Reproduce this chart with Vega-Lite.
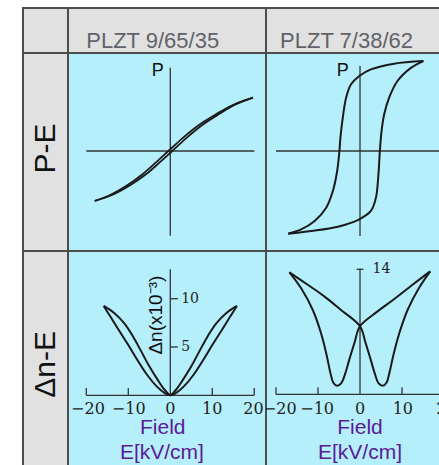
{
  "$schema": "https://vega.github.io/schema/vega-lite/v6.json",
  "padding": {"left": 22, "top": 7, "right": 0, "bottom": 0},
  "background": "white",
  "spacing": 0,
  "bounds": "flush",
  "align": "each",
  "columns": 3,
  "config": {"view": {"stroke": "#4d4d4d", "strokeWidth": 2}},
  "concat": [
        {
          "width": 45, "height": 45,
          "view": {"fill": "#e1e1e1", "stroke": "#4d4d4d", "strokeWidth": 2},
          "data": {"values": [{"t": ""}]},
          "mark": {"type": "text"},
          "encoding": {"text": {"field": "t"}}
        },
        {
          "width": 198, "height": 45,
          "view": {"fill": "#e1e1e1", "stroke": "#4d4d4d", "strokeWidth": 2},
          "data": {"values": [{"E": -4.19, "y": 0.118, "t": "PLZT 9/65/35"}]},
          "mark": {"type": "text", "font": "Liberation Sans", "fontSize": 22, "color": "#5f6368", "align": "center", "baseline": "alphabetic", "clip": true},
          "encoding": {
            "x": {"field": "E", "type": "quantitative", "scale": {"domain": [-24.36, 22.79], "nice": false, "zero": false}, "axis": null},
            "y": {"field": "y", "type": "quantitative", "scale": {"domain": [0, 1], "nice": false, "zero": false}, "axis": null},
            "text": {"field": "t"}
          }
        },
        {
          "width": 176, "height": 45,
          "view": {"fill": "#e1e1e1", "stroke": "#4d4d4d", "strokeWidth": 2},
          "data": {"values": [{"E": -3.2, "y": 0.118, "t": "PLZT 7/38/62"}]},
          "mark": {"type": "text", "font": "Liberation Sans", "fontSize": 22, "color": "#5f6368", "align": "center", "baseline": "alphabetic", "clip": true},
          "encoding": {
            "x": {"field": "E", "type": "quantitative", "scale": {"domain": [-22.38, 19.52], "nice": false, "zero": false}, "axis": null},
            "y": {"field": "y", "type": "quantitative", "scale": {"domain": [0, 1], "nice": false, "zero": false}, "axis": null},
            "text": {"field": "t"}
          }
        },
        {
          "width": 45, "height": 198,
          "view": {"fill": "#e1e1e1", "stroke": "#4d4d4d", "strokeWidth": 2},
          "data": {"values": [{"P": 0.03, "t": "P-E"}]},
          "mark": {"type": "text", "font": "Liberation Sans", "fontSize": 30, "color": "#111111", "angle": 270, "align": "center", "baseline": "middle"},
          "encoding": {
            "y": {"field": "P", "type": "quantitative", "scale": {"domain": [-1.1905, 1.1667], "nice": false, "zero": false}, "axis": null},
            "text": {"field": "t"}
          }
        },
        {
          "width": 198, "height": 198,
          "view": {"fill": "#b5effb", "stroke": "#4d4d4d", "strokeWidth": 2},
          "layer": [
            {
              "data": {"values": [
                {"E": -20, "E2": 20, "P": 0, "P2": 0},
                {"E": 0, "E2": 0, "P": -1.01, "P2": 0.99}
              ]},
              "mark": {"type": "rule", "color": "#333333", "strokeWidth": 1.3, "clip": true},
              "encoding": {
                "x": {"field": "E", "type": "quantitative", "scale": {"domain": [-24.36, 22.79], "nice": false, "zero": false}, "axis": null},
                "x2": {"field": "E2"},
                "y": {"field": "P", "type": "quantitative", "scale": {"domain": [-1.1905, 1.1667], "nice": false, "zero": false}, "axis": null},
                "y2": {"field": "P2"}
              }
            },
            {
              "data": {"values": [
                {"b": 1, "i": 0, "E": -18.0, "P": -0.595},
                {"b": 1, "i": 1, "E": -13.87, "P": -0.524},
                {"b": 1, "i": 2, "E": -9.87, "P": -0.417},
                {"b": 1, "i": 3, "E": -5.79, "P": -0.277},
                {"b": 1, "i": 4, "E": -2.6, "P": -0.139},
                {"b": 1, "i": 5, "E": 0.45, "P": 0},
                {"b": 1, "i": 6, "E": 3.74, "P": 0.151},
                {"b": 1, "i": 7, "E": 7.62, "P": 0.31},
                {"b": 1, "i": 8, "E": 11.51, "P": 0.437},
                {"b": 1, "i": 9, "E": 15.29, "P": 0.548},
                {"b": 1, "i": 10, "E": 19.7, "P": 0.635},
                {"b": 2, "i": 0, "E": 19.7, "P": 0.635},
                {"b": 2, "i": 1, "E": 14.91, "P": 0.548},
                {"b": 2, "i": 2, "E": 10.89, "P": 0.437},
                {"b": 2, "i": 3, "E": 6.82, "P": 0.31},
                {"b": 2, "i": 4, "E": 2.86, "P": 0.151},
                {"b": 2, "i": 5, "E": -0.45, "P": 0},
                {"b": 2, "i": 6, "E": -3.48, "P": -0.139},
                {"b": 2, "i": 7, "E": -6.61, "P": -0.277},
                {"b": 2, "i": 8, "E": -10.53, "P": -0.417},
                {"b": 2, "i": 9, "E": -14.33, "P": -0.524},
                {"b": 2, "i": 10, "E": -18.0, "P": -0.595}
              ]},
              "mark": {"type": "line", "color": "#1a1a1a", "strokeWidth": 1.8, "interpolate": "catmull-rom", "clip": true},
              "encoding": {
                "x": {"field": "E", "type": "quantitative", "scale": {"domain": [-24.36, 22.79], "nice": false, "zero": false}, "axis": null},
                "y": {"field": "P", "type": "quantitative", "scale": {"domain": [-1.1905, 1.1667], "nice": false, "zero": false}, "axis": null},
                "detail": {"field": "b", "type": "nominal"},
                "order": {"field": "i", "type": "quantitative"}
              }
            },
            {
              "data": {"values": [{"E": -2.96, "P": 0.952, "t": "P"}]},
              "mark": {"type": "text", "font": "Liberation Sans", "fontSize": 18, "color": "#111111", "align": "center", "baseline": "middle", "clip": true},
              "encoding": {
                "x": {"field": "E", "type": "quantitative", "scale": {"domain": [-24.36, 22.79], "nice": false, "zero": false}, "axis": null},
                "y": {"field": "P", "type": "quantitative", "scale": {"domain": [-1.1905, 1.1667], "nice": false, "zero": false}, "axis": null},
                "text": {"field": "t"}
              }
            }
          ]
        },
        {
          "width": 176, "height": 198,
          "view": {"fill": "#b5effb", "stroke": "#4d4d4d", "strokeWidth": 2},
          "layer": [
            {
              "data": {"values": [
                {"E": -20, "E2": 22, "P": 0, "P2": 0},
                {"E": 0, "E2": 0, "P": -1.012, "P2": 1.012}
              ]},
              "mark": {"type": "rule", "color": "#333333", "strokeWidth": 1.3, "clip": true},
              "encoding": {
                "x": {"field": "E", "type": "quantitative", "scale": {"domain": [-22.38, 19.52], "nice": false, "zero": false}, "axis": null},
                "x2": {"field": "E2"},
                "y": {"field": "P", "type": "quantitative", "scale": {"domain": [-1.1905, 1.1667], "nice": false, "zero": false}, "axis": null},
                "y2": {"field": "P2"}
              }
            },
            {
              "data": {"values": [
                {"b": 1, "i": 0, "E": 15.1, "P": 1.071},
                {"b": 1, "i": 1, "E": 8.13, "P": 1.04},
                {"b": 1, "i": 2, "E": 2.6, "P": 0.972},
                {"b": 1, "i": 3, "E": -0.17, "P": 0.893},
                {"b": 1, "i": 4, "E": -2.13, "P": 0.794},
                {"b": 1, "i": 5, "E": -3.31, "P": 0.635},
                {"b": 1, "i": 6, "E": -4.1, "P": 0.397},
                {"b": 1, "i": 7, "E": -4.66, "P": 0.159},
                {"b": 1, "i": 8, "E": -4.9, "P": 0},
                {"b": 1, "i": 9, "E": -5.44, "P": -0.238},
                {"b": 1, "i": 10, "E": -6.46, "P": -0.476},
                {"b": 1, "i": 11, "E": -8.05, "P": -0.675},
                {"b": 1, "i": 12, "E": -10.8, "P": -0.833},
                {"b": 1, "i": 13, "E": -14.0, "P": -0.933},
                {"b": 1, "i": 14, "E": -17.1, "P": -0.984},
                {"b": 2, "i": 0, "E": -17.1, "P": -0.984},
                {"b": 2, "i": 1, "E": -11.6, "P": -0.952},
                {"b": 2, "i": 2, "E": -5.28, "P": -0.901},
                {"b": 2, "i": 3, "E": -0.17, "P": -0.813},
                {"b": 2, "i": 4, "E": 2.6, "P": -0.714},
                {"b": 2, "i": 5, "E": 3.79, "P": -0.556},
                {"b": 2, "i": 6, "E": 4.33, "P": -0.317},
                {"b": 2, "i": 7, "E": 4.73, "P": 0},
                {"b": 2, "i": 8, "E": 5.13, "P": 0.238},
                {"b": 2, "i": 9, "E": 5.76, "P": 0.437},
                {"b": 2, "i": 10, "E": 6.94, "P": 0.635},
                {"b": 2, "i": 11, "E": 8.92, "P": 0.833},
                {"b": 2, "i": 12, "E": 12.2, "P": 0.992},
                {"b": 2, "i": 13, "E": 15.1, "P": 1.071}
              ]},
              "mark": {"type": "line", "color": "#1a1a1a", "strokeWidth": 2, "interpolate": "catmull-rom", "clip": true},
              "encoding": {
                "x": {"field": "E", "type": "quantitative", "scale": {"domain": [-22.38, 19.52], "nice": false, "zero": false}, "axis": null},
                "y": {"field": "P", "type": "quantitative", "scale": {"domain": [-1.1905, 1.1667], "nice": false, "zero": false}, "axis": null},
                "detail": {"field": "b", "type": "nominal"},
                "order": {"field": "i", "type": "quantitative"}
              }
            },
            {
              "data": {"values": [{"E": -4.1, "P": 0.952, "t": "P"}]},
              "mark": {"type": "text", "font": "Liberation Sans", "fontSize": 18, "color": "#111111", "align": "center", "baseline": "middle", "clip": true},
              "encoding": {
                "x": {"field": "E", "type": "quantitative", "scale": {"domain": [-22.38, 19.52], "nice": false, "zero": false}, "axis": null},
                "y": {"field": "P", "type": "quantitative", "scale": {"domain": [-1.1905, 1.1667], "nice": false, "zero": false}, "axis": null},
                "text": {"field": "t"}
              }
            }
          ]
        },
        {
          "width": 45, "height": 215,
          "view": {"fill": "#e1e1e1", "stroke": "#4d4d4d", "strokeWidth": 2},
          "data": {"values": [{"v": 3.2, "t": "Δn-E"}]},
          "mark": {"type": "text", "font": "Liberation Sans", "fontSize": 30, "color": "#111111", "angle": 270, "align": "center", "baseline": "middle"},
          "encoding": {
            "y": {"field": "v", "type": "quantitative", "scale": {"domain": [-7.32, 14.94], "nice": false, "zero": false}, "axis": null},
            "text": {"field": "t"}
          }
        },
        {
          "width": 198, "height": 215,
          "view": {"fill": "#b5effb", "stroke": "#4d4d4d", "strokeWidth": 2},
          "layer": [
            {
              "data": {"values": [
                {"E": -20, "E2": 20, "v": 0, "v2": 0},
                {"E": 0, "E2": 0, "v": 0, "v2": 13.06},
                {"E": -20, "E2": -20, "v": 0, "v2": 0.75},
                {"E": -10, "E2": -10, "v": 0, "v2": 0.75},
                {"E": 10, "E2": 10, "v": 0, "v2": 0.75},
                {"E": 20, "E2": 20, "v": 0, "v2": 0.75},
                {"E": 0, "E2": 1.8, "v": 10, "v2": 10},
                {"E": 0, "E2": 1.8, "v": 5, "v2": 5}
              ]},
              "mark": {"type": "rule", "color": "#333333", "strokeWidth": 1.3, "clip": true},
              "encoding": {
                "x": {"field": "E", "type": "quantitative", "scale": {"domain": [-24.36, 22.79], "nice": false, "zero": false}, "axis": null},
                "x2": {"field": "E2"},
                "y": {"field": "v", "type": "quantitative", "scale": {"domain": [-7.32, 14.94], "nice": false, "zero": false}, "axis": null},
                "y2": {"field": "v2"}
              }
            },
            {
              "data": {"values": [
                {"b": 1, "i": 0, "E": -15.86, "v": 9.25},
                {"b": 1, "i": 1, "E": -14.2, "v": 8.1},
                {"b": 1, "i": 2, "E": -12.2, "v": 6.7},
                {"b": 1, "i": 3, "E": -10.0, "v": 5.2},
                {"b": 1, "i": 4, "E": -7.76, "v": 3.6},
                {"b": 1, "i": 5, "E": -5.5, "v": 2.1},
                {"b": 1, "i": 6, "E": -3.3, "v": 0.95},
                {"b": 1, "i": 7, "E": -1.4, "v": 0.25},
                {"b": 1, "i": 8, "E": 0, "v": 0},
                {"b": 1, "i": 9, "E": 1.26, "v": 0.52},
                {"b": 1, "i": 10, "E": 3.0, "v": 1.6},
                {"b": 1, "i": 11, "E": 5.0, "v": 3.0},
                {"b": 1, "i": 12, "E": 6.98, "v": 4.6},
                {"b": 1, "i": 13, "E": 8.95, "v": 6.15},
                {"b": 1, "i": 14, "E": 10.95, "v": 7.45},
                {"b": 1, "i": 15, "E": 13.3, "v": 8.5},
                {"b": 1, "i": 16, "E": 15.86, "v": 9.25},
                {"b": 2, "i": 0, "E": 15.86, "v": 9.25},
                {"b": 2, "i": 1, "E": 14.2, "v": 8.1},
                {"b": 2, "i": 2, "E": 12.2, "v": 6.7},
                {"b": 2, "i": 3, "E": 10.0, "v": 5.2},
                {"b": 2, "i": 4, "E": 7.76, "v": 3.6},
                {"b": 2, "i": 5, "E": 5.5, "v": 2.1},
                {"b": 2, "i": 6, "E": 3.3, "v": 0.95},
                {"b": 2, "i": 7, "E": 1.4, "v": 0.25},
                {"b": 2, "i": 8, "E": 0, "v": 0},
                {"b": 2, "i": 9, "E": -1.26, "v": 0.52},
                {"b": 2, "i": 10, "E": -3.0, "v": 1.6},
                {"b": 2, "i": 11, "E": -5.0, "v": 3.0},
                {"b": 2, "i": 12, "E": -6.98, "v": 4.6},
                {"b": 2, "i": 13, "E": -8.95, "v": 6.15},
                {"b": 2, "i": 14, "E": -10.95, "v": 7.45},
                {"b": 2, "i": 15, "E": -13.3, "v": 8.5},
                {"b": 2, "i": 16, "E": -15.86, "v": 9.25}
              ]},
              "mark": {"type": "line", "color": "#1a1a1a", "strokeWidth": 2, "interpolate": "catmull-rom", "clip": true},
              "encoding": {
                "x": {"field": "E", "type": "quantitative", "scale": {"domain": [-24.36, 22.79], "nice": false, "zero": false}, "axis": null},
                "y": {"field": "v", "type": "quantitative", "scale": {"domain": [-7.32, 14.94], "nice": false, "zero": false}, "axis": null},
                "detail": {"field": "b", "type": "nominal"},
                "order": {"field": "i", "type": "quantitative"}
              }
            },
            {
              "data": {"values": [
                {"E": -19.6, "v": -1.45, "t": "−20"},
                {"E": -9.9, "v": -1.45, "t": "−10"},
                {"E": 0, "v": -1.45, "t": "0"},
                {"E": 10, "v": -1.45, "t": "10"},
                {"E": 19.8, "v": -1.45, "t": "20"}
              ]},
              "mark": {"type": "text", "font": "DejaVu Serif", "fontSize": 16, "color": "#222222", "align": "center", "baseline": "middle", "clip": true},
              "encoding": {
                "x": {"field": "E", "type": "quantitative", "scale": {"domain": [-24.36, 22.79], "nice": false, "zero": false}, "axis": null},
                "y": {"field": "v", "type": "quantitative", "scale": {"domain": [-7.32, 14.94], "nice": false, "zero": false}, "axis": null},
                "text": {"field": "t"}
              }
            },
            {
              "data": {"values": [
                {"E": 2.6, "v": 10, "t": "10"},
                {"E": 2.6, "v": 5, "t": "5"}
              ]},
              "mark": {"type": "text", "font": "DejaVu Serif", "fontSize": 14, "color": "#222222", "align": "left", "baseline": "middle", "clip": true},
              "encoding": {
                "x": {"field": "E", "type": "quantitative", "scale": {"domain": [-24.36, 22.79], "nice": false, "zero": false}, "axis": null},
                "y": {"field": "v", "type": "quantitative", "scale": {"domain": [-7.32, 14.94], "nice": false, "zero": false}, "axis": null},
                "text": {"field": "t"}
              }
            },
            {
              "data": {"values": [{"E": -3.4, "v": 8.3, "t": "Δn(x10⁻³)"}]},
              "mark": {"type": "text", "font": "Liberation Sans", "fontSize": 19, "color": "#111111", "angle": 270, "align": "center", "baseline": "middle", "clip": true},
              "encoding": {
                "x": {"field": "E", "type": "quantitative", "scale": {"domain": [-24.36, 22.79], "nice": false, "zero": false}, "axis": null},
                "y": {"field": "v", "type": "quantitative", "scale": {"domain": [-7.32, 14.94], "nice": false, "zero": false}, "axis": null},
                "text": {"field": "t"}
              }
            },
            {
              "data": {"values": [
                {"E": -1.8, "v": -4.04, "t": "Field"},
                {"E": -2.0, "v": -6.63, "t": "E[kV/cm]"}
              ]},
              "mark": {"type": "text", "font": "Liberation Sans", "fontSize": 21, "color": "#5b1a96", "align": "center", "baseline": "alphabetic", "clip": true},
              "encoding": {
                "x": {"field": "E", "type": "quantitative", "scale": {"domain": [-24.36, 22.79], "nice": false, "zero": false}, "axis": null},
                "y": {"field": "v", "type": "quantitative", "scale": {"domain": [-7.32, 14.94], "nice": false, "zero": false}, "axis": null},
                "text": {"field": "t"}
              }
            }
          ]
        },
        {
          "width": 176, "height": 215,
          "view": {"fill": "#b5effb", "stroke": "#4d4d4d", "strokeWidth": 2},
          "layer": [
            {
              "data": {"values": [
                {"E": -20, "E2": 22, "v": 0, "v2": 0},
                {"E": 0, "E2": 0, "v": 0, "v2": 14},
                {"E": -0.8, "E2": 0.8, "v": 14, "v2": 14},
                {"E": -20, "E2": -20, "v": 0, "v2": 0.8},
                {"E": -10, "E2": -10, "v": 0, "v2": 0.8},
                {"E": 10, "E2": 10, "v": 0, "v2": 0.8},
                {"E": 20, "E2": 20, "v": 0, "v2": 0.8}
              ]},
              "mark": {"type": "rule", "color": "#333333", "strokeWidth": 1.3, "clip": true},
              "encoding": {
                "x": {"field": "E", "type": "quantitative", "scale": {"domain": [-22.38, 19.52], "nice": false, "zero": false}, "axis": null},
                "x2": {"field": "E2"},
                "y": {"field": "v", "type": "quantitative", "scale": {"domain": [-8.03, 16.05], "nice": false, "zero": false}, "axis": null},
                "y2": {"field": "v2"}
              }
            },
            {
              "data": {"values": [
                {"b": 1, "i": 0, "E": -16.8, "v": 13.66},
                {"b": 1, "i": 1, "E": -12.45, "v": 12.27},
                {"b": 1, "i": 2, "E": -8.5, "v": 10.97},
                {"b": 1, "i": 3, "E": -4.6, "v": 9.47},
                {"b": 1, "i": 4, "E": 0, "v": 7.62},
                {"b": 1, "i": 5, "E": 1.3, "v": 5.8},
                {"b": 1, "i": 6, "E": 2.6, "v": 3.8},
                {"b": 1, "i": 7, "E": 3.6, "v": 2.2},
                {"b": 1, "i": 8, "E": 4.4, "v": 1.25},
                {"b": 1, "i": 9, "E": 5.4, "v": 0.95},
                {"b": 1, "i": 10, "E": 6.3, "v": 1.3},
                {"b": 1, "i": 11, "E": 7.0, "v": 2.4},
                {"b": 1, "i": 12, "E": 7.9, "v": 4.3},
                {"b": 1, "i": 13, "E": 9.37, "v": 6.86},
                {"b": 1, "i": 14, "E": 11.35, "v": 9.47},
                {"b": 1, "i": 15, "E": 13.9, "v": 11.8},
                {"b": 1, "i": 16, "E": 16.7, "v": 13.77},
                {"b": 2, "i": 0, "E": 16.7, "v": 13.77},
                {"b": 2, "i": 1, "E": 12.5, "v": 12.27},
                {"b": 2, "i": 2, "E": 8.17, "v": 10.67},
                {"b": 2, "i": 3, "E": 4.2, "v": 9.29},
                {"b": 2, "i": 4, "E": 0, "v": 7.62},
                {"b": 2, "i": 5, "E": -1.3, "v": 5.8},
                {"b": 2, "i": 6, "E": -2.6, "v": 3.8},
                {"b": 2, "i": 7, "E": -3.6, "v": 2.2},
                {"b": 2, "i": 8, "E": -4.45, "v": 1.25},
                {"b": 2, "i": 9, "E": -5.45, "v": 0.95},
                {"b": 2, "i": 10, "E": -6.35, "v": 1.3},
                {"b": 2, "i": 11, "E": -7.05, "v": 2.4},
                {"b": 2, "i": 12, "E": -7.9, "v": 4.3},
                {"b": 2, "i": 13, "E": -9.29, "v": 6.86},
                {"b": 2, "i": 14, "E": -11.27, "v": 9.47},
                {"b": 2, "i": 15, "E": -13.9, "v": 11.8},
                {"b": 2, "i": 16, "E": -16.8, "v": 13.66}
              ]},
              "mark": {"type": "line", "color": "#1a1a1a", "strokeWidth": 2, "interpolate": "catmull-rom", "clip": true},
              "encoding": {
                "x": {"field": "E", "type": "quantitative", "scale": {"domain": [-22.38, 19.52], "nice": false, "zero": false}, "axis": null},
                "y": {"field": "v", "type": "quantitative", "scale": {"domain": [-8.03, 16.05], "nice": false, "zero": false}, "axis": null},
                "detail": {"field": "b", "type": "nominal"},
                "order": {"field": "i", "type": "quantitative"}
              }
            },
            {
              "data": {"values": [
                {"E": -19.1, "v": -1.68, "t": "−20"},
                {"E": -10.2, "v": -1.68, "t": "−10"},
                {"E": 0, "v": -1.68, "t": "0"},
                {"E": 10.2, "v": -1.68, "t": "10"},
                {"E": 20.6, "v": -1.68, "t": "20"}
              ]},
              "mark": {"type": "text", "font": "DejaVu Serif", "fontSize": 16, "color": "#222222", "align": "center", "baseline": "middle", "clip": true},
              "encoding": {
                "x": {"field": "E", "type": "quantitative", "scale": {"domain": [-22.38, 19.52], "nice": false, "zero": false}, "axis": null},
                "y": {"field": "v", "type": "quantitative", "scale": {"domain": [-8.03, 16.05], "nice": false, "zero": false}, "axis": null},
                "text": {"field": "t"}
              }
            },
            {
              "data": {"values": [{"E": 3.0, "v": 14, "t": "14"}]},
              "mark": {"type": "text", "font": "DejaVu Serif", "fontSize": 14, "color": "#222222", "align": "left", "baseline": "middle", "clip": true},
              "encoding": {
                "x": {"field": "E", "type": "quantitative", "scale": {"domain": [-22.38, 19.52], "nice": false, "zero": false}, "axis": null},
                "y": {"field": "v", "type": "quantitative", "scale": {"domain": [-8.03, 16.05], "nice": false, "zero": false}, "axis": null},
                "text": {"field": "t"}
              }
            },
            {
              "data": {"values": [
                {"E": 0, "v": -4.41, "t": "Field"},
                {"E": 0, "v": -7.28, "t": "E[kV/cm]"}
              ]},
              "mark": {"type": "text", "font": "Liberation Sans", "fontSize": 21, "color": "#5b1a96", "align": "center", "baseline": "alphabetic", "clip": true},
              "encoding": {
                "x": {"field": "E", "type": "quantitative", "scale": {"domain": [-22.38, 19.52], "nice": false, "zero": false}, "axis": null},
                "y": {"field": "v", "type": "quantitative", "scale": {"domain": [-8.03, 16.05], "nice": false, "zero": false}, "axis": null},
                "text": {"field": "t"}
              }
            }
          ]
        }
  ]
}
